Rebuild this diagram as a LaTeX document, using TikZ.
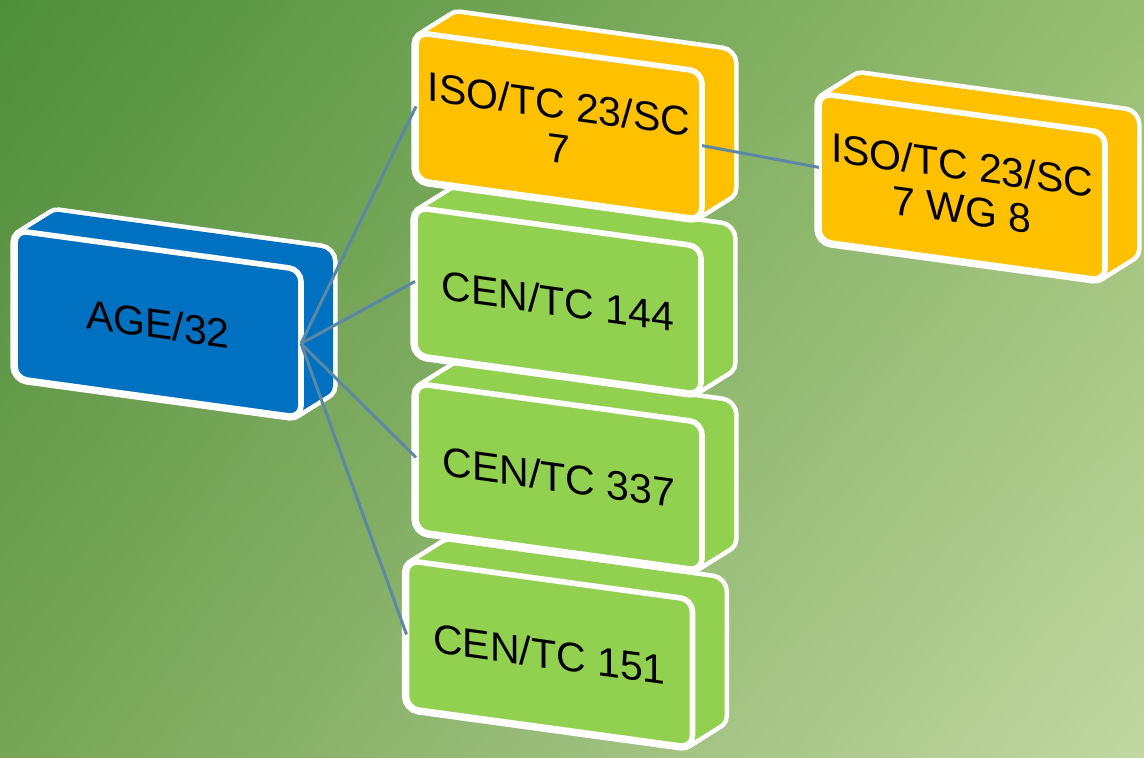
\documentclass[tikz,border=0pt]{standalone}
\usepackage{fontspec}
\setmainfont{Liberation Sans}
\usepackage{xcolor}
\usetikzlibrary{shadings}

\definecolor{ageblue}{RGB}{0,112,192}
\definecolor{isoyellow}{RGB}{255,192,0}
\definecolor{cengreen}{RGB}{146,208,80}
\definecolor{linkblue}{RGB}{92,136,166}
\definecolor{bgul}{RGB}{78,142,58}
\definecolor{bgur}{RGB}{152,190,114}
\definecolor{bgll}{RGB}{118,165,86}
\definecolor{bglr}{RGB}{194,215,162}

\pgfdeclarelayer{bgl}
\pgfdeclarelayer{ext}
\pgfsetlayers{bgl,ext,main}

\tikzset{
  face/.style={draw=white, line width=2.8pt, rounded corners=6pt, yslant=-0.137,
    minimum width=143pt, minimum height=74pt, inner sep=0pt, outer sep=0pt,
    align=center, font=\fontsize{20.5}{22}\selectfont},
  link/.style={draw=linkblue, line width=1.5pt}
}

\newcommand{\extrude}[2]{%
  \begin{pgfonlayer}{ext}
    \foreach \k in {0,...,16}
      \draw[white, fill=white, line width=4.6pt, rounded corners=6pt,
        transform canvas={shift={(2*\k,1.25*\k)}}]
        (#1.north west) -- (#1.north east) -- (#1.south east) -- (#1.south west) -- cycle;
    \foreach \k in {0,...,16}
      \fill[#2, rounded corners=6pt, transform canvas={shift={(2*\k,1.25*\k)}}]
        (#1.north west) -- (#1.north east) -- (#1.south east) -- (#1.south west) -- cycle;
  \end{pgfonlayer}}

\begin{document}
\begin{tikzpicture}[x=0.5pt, y=0.5pt]
  \useasboundingbox (0,0) rectangle (1144,-758);
  \begin{pgfonlayer}{bgl}
    \shade[upper left=bgul, upper right=bgur, lower left=bgll, lower right=bglr]
      (0,0) rectangle (1144,-758);
  \end{pgfonlayer}

  \node[face, fill=cengreen] (cen151) at (549.5,-654) {CEN/TC 151};
  \extrude{cen151}{cengreen}
  \node[face, fill=cengreen] (cen337) at (559,-477) {CEN/TC 337};
  \extrude{cen337}{cengreen}
  \node[face, fill=cengreen] (cen144) at (558,-301) {CEN/TC 144};
  \extrude{cen144}{cengreen}
  \node[face, fill=isoyellow] (sc7) at (559,-126) {ISO/TC 23/SC\\7};
  \extrude{sc7}{isoyellow}
  \node[face, fill=isoyellow] (wg8) at (962,-187) {ISO/TC 23/SC\\7 WG 8};
  \extrude{wg8}{isoyellow}
  \node[face, fill=ageblue] (age) at (158,-324) {AGE/32};
  \extrude{age}{ageblue}

  \draw[link] (age.east) -- (sc7.west);
  \draw[link] (age.east) -- (cen144.west);
  \draw[link] (age.east) -- (cen337.west);
  \draw[link] (age.east) -- (cen151.west);
  \draw[link] (sc7.east) -- (wg8.west);
\end{tikzpicture}
\end{document}
